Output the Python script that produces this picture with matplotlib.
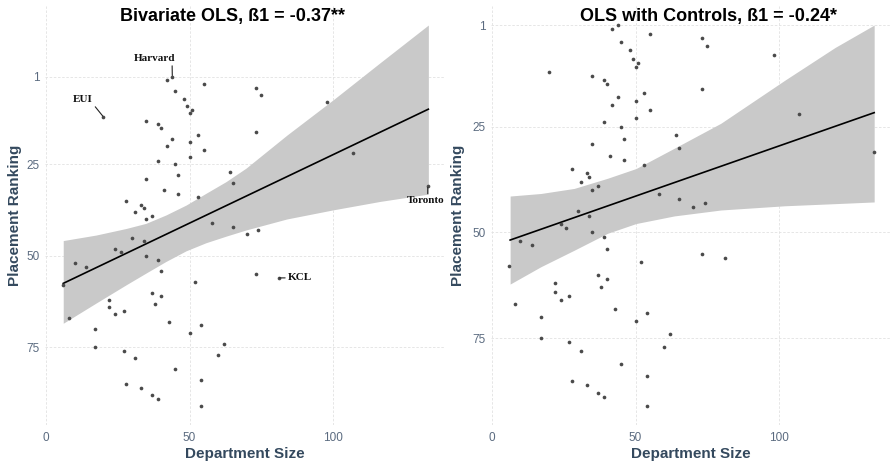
import matplotlib
matplotlib.use("Agg")
import matplotlib.pyplot as plt

# department size vs placement ranking (same points in both panels)
dept_size = [42, 44, 55, 73, 75, 45, 48, 49, 51, 50, 98, 20, 35, 39, 40, 73,
             53, 44, 50, 42, 55, 50, 39, 45, 107, 46, 64, 65, 35, 41, 46, 53,
             133, 28, 33, 34, 31, 37, 35, 58, 65, 74, 70, 30, 34, 24, 26, 35,
             39, 10, 40, 14, 73, 81, 52, 6, 37, 40, 22, 38, 22, 27, 24, 8,
             43, 54, 50, 17, 17, 62, 27, 60, 31, 45, 54, 28, 33, 37, 39, 54]
ranking = [2, 1, 3, 4, 6, 5, 7, 9, 10, 11, 8, 12, 13, 14, 15, 16,
           17, 18, 19, 20, 21, 23, 24, 25, 22, 28, 27, 30, 29, 32, 33, 34,
           31, 35, 36, 37, 38, 39, 40, 41, 42, 43, 44, 45, 46, 48, 49, 50,
           51, 52, 54, 53, 55, 56, 57, 58, 60, 61, 62, 63, 64, 65, 66, 67,
           68, 69, 71, 70, 75, 74, 76, 77, 78, 81, 84, 85, 86, 88, 89, 91]

labelled = ["Harvard", "EUI", "KCL", "Toronto"]
labelled_pts = [(44, 1), (20, 12), (81, 56), (133, 31)]

# fitted lines and confidence bands
fit_left_x = [6, 133.2]
fit_left_y = [57.5, 9.9]
band_left_x = [6, 17.4, 27.9, 34.8, 41.8, 48.8, 55.7, 62.7, 69.7, 83.9, 100.1, 116.4, 133.2]
band_left_hi = [45.8, 44.3, 42.5, 41.1, 38.8, 36.1, 32.9, 29.7, 26.0, 17.0, 7.3, -2.8, -13.1]
band_left_lo = [68.4, 62.9, 57.9, 54.7, 51.5, 48.6, 46.4, 44.6, 42.9, 39.9, 37.4, 35.1, 33.1]

fit_right_x = [6.4, 133]
fit_right_y = [51.8, 21.7]
band_right_x = [6.4, 17.1, 28.7, 40.3, 50.2, 63.5, 79.7, 102, 119.4, 133]
band_right_hi = [41.4, 40.8, 39.6, 37.2, 34.9, 30.1, 24.2, 14.0, 6.3, 1.0]
band_right_lo = [62.2, 58.1, 54.2, 50.2, 47.9, 46.1, 44.7, 43.7, 43.2, 42.8]

titles = ["Bivariate OLS, ß1 = -0.37**", "OLS with Controls, ß1 = -0.24*"]

title_col = "#34495e"
tick_col = "#5b6b80"

fig = plt.figure(figsize=(8.9, 4.66), dpi=100)
ax1 = fig.add_axes([45 / 890, 41 / 466, 400 / 890, 419 / 466])
ax2 = fig.add_axes([491 / 890, 41 / 466, 399 / 890, 419 / 466])

panels = [
    (ax1, fit_left_x, fit_left_y, band_left_x, band_left_hi, band_left_lo,
     (-0.35, 139.0), (96.2, -18.3), 0.47, -0.075),
    (ax2, fit_right_x, fit_right_y, band_right_x, band_right_hi, band_right_lo,
     (-0.25, 138.5), (95.5, -3.5), 0.545, -0.083),
]

for i, (ax, fx, fy, bx, bhi, blo, xl, yl, tx, lx) in enumerate(panels):
    ax.fill_between(bx, blo, bhi, color="#c9c9c9", lw=0, zorder=1)
    ax.scatter(dept_size, ranking, s=7, color="#4a4a4a", lw=0, zorder=3)
    ax.plot(fx, fy, color="black", lw=1.2, zorder=2)

    ax.set_xlim(*xl)
    ax.set_ylim(*yl)
    ax.set_xticks([0, 50, 100])
    ax.set_yticks([1, 25, 50, 75])
    ax.grid(True, color="#e2e2e2", lw=0.6, linestyle=(0, (3, 2)), zorder=0)
    ax.set_axisbelow(True)
    for s in ax.spines.values():
        s.set_visible(False)
    ax.tick_params(length=0, labelsize=8.5, labelcolor=tick_col)
    ax.tick_params(axis="x", pad=5)
    ax.tick_params(axis="y", pad=4)
    for t in ax.get_xticklabels() + ax.get_yticklabels():
        t.set_fontfamily("Liberation Sans")

    ax.set_xlabel("Department Size", fontsize=11, fontweight="bold",
                  color=title_col, family="Liberation Sans", va="center")
    ax.set_ylabel("Placement Ranking", fontsize=11, fontweight="bold",
                  color=title_col, family="Liberation Sans", va="center")
    ax.xaxis.set_label_coords(0.5, -0.069)
    ax.yaxis.set_label_coords(lx, 0.5)

    ax.set_title(titles[i], x=tx, y=0.974, va="center", pad=0, fontsize=13,
                 fontweight="bold", family="Liberation Sans", color="black")

# labelled departments on the left panel
offsets = [(-13, 13), (-14.6, 12.5), (15.5, 0), (-1.4, -10.5)]
relpos = [(0.93, 0.0), (1.0, 0.0), (0.0, 0.5), (0.55, 1.0)]
for name, pt, off, rp in zip(labelled, labelled_pts, offsets, relpos):
    ax1.annotate(name, xy=pt, xytext=off, textcoords="offset points",
                 ha="center", va="center", fontsize=8, fontweight="bold",
                 family="Liberation Serif", color="#111111", zorder=4,
                 arrowprops=dict(arrowstyle="-", color="#222222", lw=0.8,
                                 relpos=rp, shrinkA=0, shrinkB=0.8))

fig.savefig("out.png", dpi=100)
plt.close(fig)
